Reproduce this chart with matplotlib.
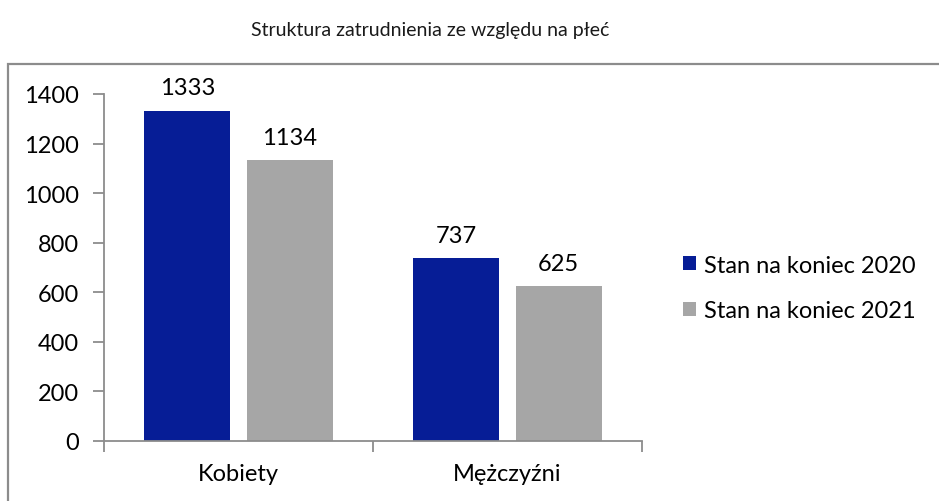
import matplotlib
matplotlib.use("Agg")
import matplotlib.pyplot as plt
from matplotlib.patches import Rectangle
import numpy as np

categories = ["Kobiety", "Mężczyźni"]
series_names = ["Stan na koniec 2020", "Stan na koniec 2021"]
values_2020 = [1333, 737]
values_2021 = [1134, 625]
title = "Struktura zatrudnienia ze względu na płeć"
yticks = [0, 200, 400, 600, 800, 1000, 1200, 1400]

plt.rcParams['font.family'] = ['Lato', 'DejaVu Sans']

W, H = 939, 502
fig = plt.figure(figsize=(W / 100, H / 100), dpi=100)

# outer chart box
box = Rectangle((8 / W, -0.1), 1.2, 0.1 + (H - 65) / H, transform=fig.transFigure,
                fill=False, edgecolor='#8c8c8c', linewidth=1.6, clip_on=False)
fig.patches.append(box)

fig.text(430 / W, 1 - 31 / H, title, ha='center', va='center', fontsize=14, color='#1a1a1a')

ax = fig.add_axes([104 / W, (H - 442) / H, (642 - 104) / W, (442 - 95) / H])

x = np.arange(len(categories))
bw = 0.32
off = 0.19
c1, c2 = '#061D96', '#A6A6A6'
b1 = ax.bar(x - off, values_2020, bw, color=c1, label=series_names[0])
b2 = ax.bar(x + off, values_2021, bw, color=c2, label=series_names[1])

for bars, vals in ((b1, values_2020), (b2, values_2021)):
    for r, v in zip(bars, vals):
        ax.text(r.get_x() + r.get_width() / 2, v + 50, str(v), ha='center', va='bottom',
                fontsize=17, color='black')

ax.set_xlim(-0.5, len(categories) - 0.5)
ax.set_ylim(0, 1400)
ax.set_yticks(yticks)
ax.set_yticklabels([str(t) for t in yticks], fontsize=17)
ax.set_xticks(x)
ax.set_xticklabels(categories, fontsize=17)
ax.set_xticks(np.arange(len(categories) + 1) - 0.5, minor=True)

for s in ['top', 'right']:
    ax.spines[s].set_visible(False)
for s in ['left', 'bottom']:
    ax.spines[s].set_color('#8c8c8c')
    ax.spines[s].set_linewidth(1.3)

ax.tick_params(axis='y', direction='out', length=8, width=1.3, color='#8c8c8c', pad=10)
ax.tick_params(axis='x', which='major', length=0, pad=16)
ax.tick_params(axis='x', which='minor', direction='out', length=8, width=1.3, color='#8c8c8c')

fig.legend(handles=[b1, b2], labels=series_names, loc='center left',
           bbox_to_anchor=(662 / W, 1 - 289 / H), frameon=False, fontsize=17,
           handlelength=0.55, handleheight=0.55, handletextpad=0.35, labelspacing=1.05)

fig.savefig("out.png", dpi=100)
